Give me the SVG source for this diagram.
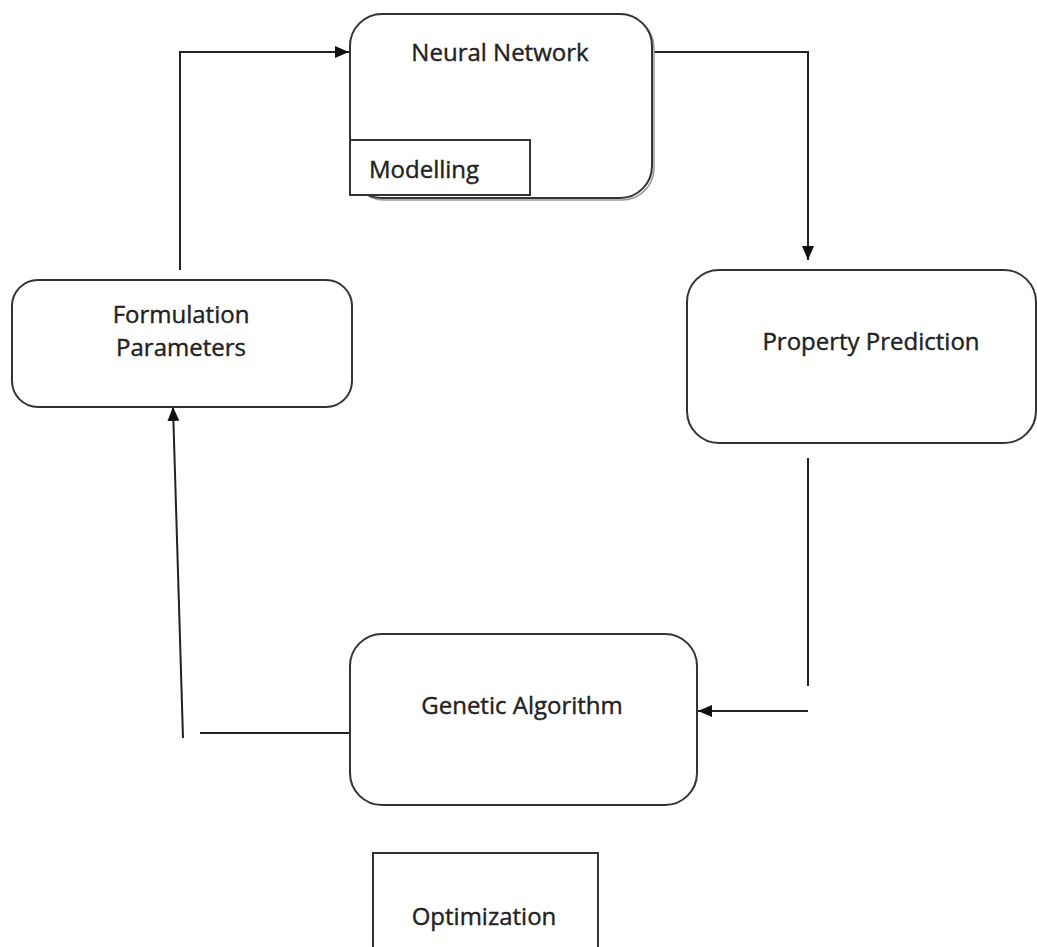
<svg xmlns="http://www.w3.org/2000/svg" width="1037" height="947" viewBox="0 0 1037 947">
<style>
.box{fill:#fff;stroke:#333;stroke-width:2}
.lbl{font-family:"Open Sans","Liberation Sans",sans-serif;font-size:24px;fill:#222;stroke:#222;stroke-width:0.4}
.ln{fill:none;stroke:#222;stroke-width:2}
</style>
<defs>
<marker id="ah" viewBox="0 0 14 12" refX="14" refY="6" markerWidth="14" markerHeight="12" markerUnits="userSpaceOnUse" orient="auto">
<path d="M0,0 L14,6 L0,12 Z" fill="#111"/>
</marker>
</defs>
<rect width="1037" height="947" fill="#fff"/>
<g id="connectors">
<path class="ln" d="M180,270 V52 H349" marker-end="url(#ah)"/>
<path class="ln" d="M652,52 H808 V260" marker-end="url(#ah)"/>
<path class="ln" d="M808,458 V686"/>
<path class="ln" d="M808,711 H698" marker-end="url(#ah)"/>
<path class="ln" d="M350,733 H200"/>
<path class="ln" d="M183,738 L173,407" marker-end="url(#ah)"/>
</g>
<g id="neural-network">
<rect class="box" x="352" y="16" width="302" height="184" rx="32" style="stroke:#999;stroke-width:1.5"/>
<rect class="box" x="350" y="14" width="302" height="184" rx="32"/>
<text class="lbl" x="500" y="61" text-anchor="middle">Neural Network</text>
</g>
<g id="modelling">
<rect class="box" x="350" y="140" width="180" height="55"/>
<text class="lbl" x="369" y="178">Modelling</text>
</g>
<g id="property-prediction">
<rect class="box" x="687" y="270" width="349" height="173" rx="32"/>
<text class="lbl" x="871" y="350" text-anchor="middle">Property Prediction</text>
</g>
<g id="genetic-algorithm">
<rect class="box" x="350" y="634" width="347" height="171" rx="32"/>
<text class="lbl" x="522" y="714" text-anchor="middle">Genetic Algorithm</text>
</g>
<g id="formulation-parameters">
<rect class="box" x="12" y="280" width="340" height="127" rx="26"/>
<text class="lbl" x="181" y="323" text-anchor="middle">Formulation</text>
<text class="lbl" x="181" y="356" text-anchor="middle">Parameters</text>
</g>
<g id="optimization">
<rect class="box" x="373" y="853" width="225" height="100"/>
<text class="lbl" x="484" y="925" text-anchor="middle">Optimization</text>
</g>
</svg>
